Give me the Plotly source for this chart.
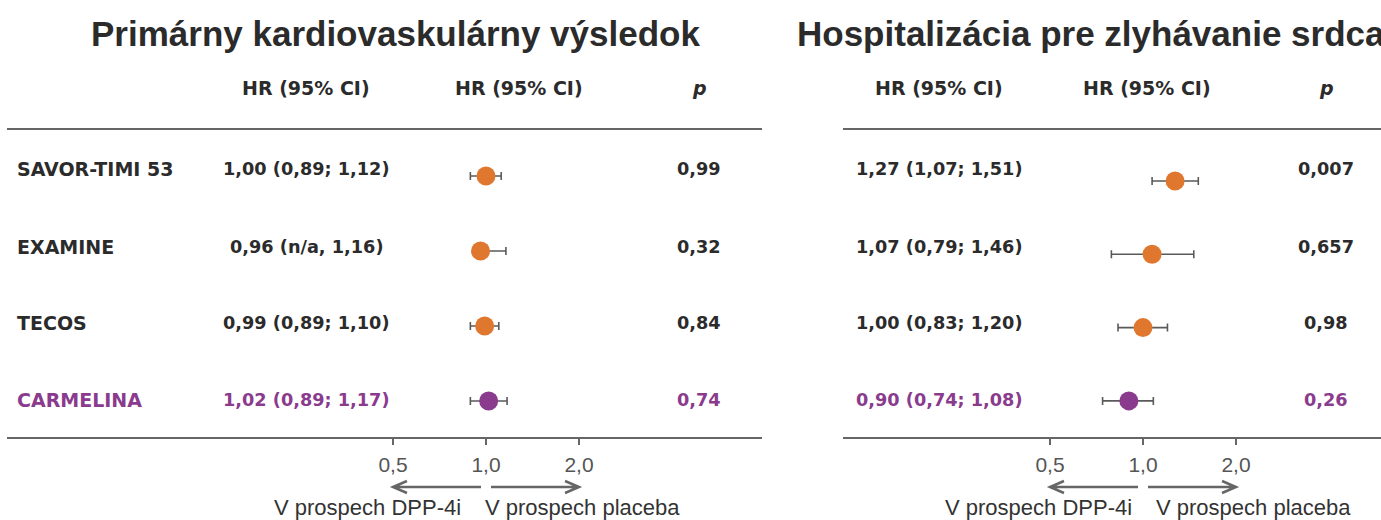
import math
import plotly.graph_objects as go

# ---------------- data ----------------
studies = ["SAVOR-TIMI 53", "EXAMINE", "TECOS", "CARMELINA"]
rows = [0, 1, 2, 3]

mace_hr = [1.00, 0.96, 0.99, 1.02]
mace_lo = [0.89, None, 0.89, 0.89]
mace_hi = [1.12, 1.16, 1.10, 1.17]
mace_txt = ["1,00 (0,89; 1,12)", "0,96 (n/a, 1,16)", "0,99 (0,89; 1,10)", "1,02 (0,89; 1,17)"]
mace_p = ["0,99", "0,32", "0,84", "0,74"]

hhf_hr = [1.27, 1.07, 1.00, 0.90]
hhf_lo = [1.07, 0.79, 0.83, 0.74]
hhf_hi = [1.51, 1.46, 1.20, 1.08]
hhf_txt = ["1,27 (1,07; 1,51)", "1,07 (0,79; 1,46)", "1,00 (0,83; 1,20)", "0,90 (0,74; 1,08)"]
hhf_p = ["0,007", "0,657", "0,98", "0,26"]

titles = ["Primárny kardiovaskulárny výsledok", "Hospitalizácia pre zlyhávanie srdca"]
tick_vals = [0.5, 1.0, 2.0]
tick_text = ["0,5", "1,0", "2,0"]
favour_left = "V prospech DPP-4i"
favour_right = "V prospech placeba"

# ---------------- style ----------------
W, H = 1381, 520
ORANGE = "#E0772F"
PURPLE = "#8A3B8E"
TXT = "#2b2b2b"
GRAY = "#666666"
ARIAL = "Liberation Sans, Arial, sans-serif"
WIDE = "DejaVu Sans, Verdana, sans-serif"
PX_PER_DEC = 309.0

colors = [ORANGE, ORANGE, ORANGE, PURPLE]
txt_colors = [TXT, TXT, TXT, PURPLE]


def px(v):
    return min(1.0, max(0.0, v / W))


def pxu(v):
    return v / W


def py(v):
    return 1 - v / H


fig = go.Figure()

panels = [
    dict(xa="x", ya="y", left=7, right=762, one=486, hr=mace_hr, lo=mace_lo, hi=mace_hi,
         txt=mace_txt, p=mace_p, hr_c=306, hdr2=519, p_c=699, row0=176, step=75, title_x=395,
         title_anchor="center", name_x=15, fav_l=463, fav_r=483),
    dict(xa="x2", ya="y2", left=843, right=1381, one=1143, hr=hhf_hr, lo=hhf_lo, hi=hhf_hi,
         txt=hhf_txt, p=hhf_p, hr_c=939, hdr2=1147, p_c=1326, row0=181, step=73.3, title_x=795,
         title_anchor="left", name_x=None, fav_l=1134, fav_r=1154),
]

top_px, bot_px = 129.5, 437
row_text_px = [169, 247, 323, 400]

for i, pn in enumerate(panels):
    lo_rng = (pn["left"] - pn["one"]) / PX_PER_DEC
    hi_rng = (pn["right"] - pn["one"]) / PX_PER_DEC
    y_top = (top_px - pn["row0"]) / pn["step"]
    y_bot = (bot_px - pn["row0"]) / pn["step"]
    sfx = "" if i == 0 else "2"

    fig.update_layout(**{
        "xaxis" + sfx: dict(
            domain=[px(pn["left"]), px(pn["right"])],
            type="log", range=[lo_rng, hi_rng], anchor="y" + sfx,
            tickvals=tick_vals, ticktext=tick_text, ticks="outside", ticklen=6,
            tickwidth=1.5, tickcolor=GRAY, showline=True, linecolor=GRAY, linewidth=2,
            mirror=True, showgrid=False, zeroline=False, ticklabelstandoff=2,
            tickfont=dict(family=ARIAL, size=21, color="#555555"),
        ),
        "yaxis" + sfx: dict(
            domain=[py(bot_px), py(top_px)], range=[y_bot, y_top], anchor="x" + sfx,
            visible=False, showgrid=False, zeroline=False,
        ),
    })

    plus = [h - v for h, v in zip(pn["hi"], pn["hr"])]
    minus = [(v - l) if l is not None else 0 for v, l in zip(pn["hr"], pn["lo"])]

    # vertical reference line at HR = 1
    fig.add_shape(type="line", xref=pn["xa"], yref="paper", x0=0, x1=0,
                  y0=py(bot_px), y1=py(top_px), line=dict(color="#555555", width=2.2), layer="below")

    fig.add_trace(go.Scatter(
        x=pn["hr"], y=rows, xaxis=pn["xa"], yaxis=pn["ya"], mode="markers",
        marker=dict(size=19, color=colors, line=dict(width=0)),
        error_x=dict(type="data", symmetric=False, array=plus, arrayminus=minus,
                     color="#5a5a5a", thickness=1.6, width=4),
        showlegend=False, hoverinfo="skip",
    ))

    # title
    fig.add_annotation(text=f"<b>{titles[i]}</b>", xref="paper", yref="paper",
                       x=pxu(pn["title_x"]), y=py(33), xanchor=pn["title_anchor"], yanchor="middle",
                       showarrow=False, font=dict(family=ARIAL, size=35, color=TXT))
    # headers
    for hx, ht in [(pn["hr_c"], "<b>HR (95% CI)</b>"), (pn["hdr2"], "<b>HR (95% CI)</b>"),
                   (pn["p_c"], "<b><i>p</i></b>")]:
        fig.add_annotation(text=ht, xref="paper", yref="paper", x=pxu(hx), y=py(88),
                           xanchor="center", yanchor="middle", showarrow=False,
                           font=dict(family=WIDE, size=19, color=TXT))

    # row texts
    for r in rows:
        ty = py(row_text_px[r])
        if pn["name_x"] is not None:
            fig.add_annotation(text=f"<b>{studies[r]}</b>", xref="paper", yref="paper",
                               x=pxu(pn["name_x"]), y=ty, xanchor="left", yanchor="middle",
                               showarrow=False, font=dict(family=WIDE, size=19, color=txt_colors[r]))
        fig.add_annotation(text=f"<b>{pn['txt'][r]}</b>", xref="paper", yref="paper",
                           x=pxu(pn["hr_c"]), y=ty, xanchor="center", yanchor="middle",
                           showarrow=False, font=dict(family=WIDE, size=17.7, color=txt_colors[r]))
        fig.add_annotation(text=f"<b>{pn['p'][r]}</b>", xref="paper", yref="paper",
                           x=pxu(pn["p_c"]), y=ty, xanchor="center", yanchor="middle",
                           showarrow=False, font=dict(family=WIDE, size=17.7, color=txt_colors[r]))

    # favour arrows
    def lx(v, one=pn["one"]):
        return pxu(one + PX_PER_DEC * math.log10(v))

    ay = py(487)
    dy = 6 / H
    dx = 14 / W
    gap = 5 / W
    l_tip, r_tip = lx(0.5), lx(2.0)
    c = lx(1.0)
    path_l = (f"M {c - gap},{ay} L {l_tip},{ay} M {l_tip + dx},{ay + dy} L {l_tip},{ay} "
              f"L {l_tip + dx},{ay - dy}")
    path_r = (f"M {c + gap},{ay} L {r_tip},{ay} M {r_tip - dx},{ay + dy} L {r_tip},{ay} "
              f"L {r_tip - dx},{ay - dy}")
    for pth in (path_l, path_r):
        fig.add_shape(type="path", xref="paper", yref="paper", path=pth,
                      line=dict(color=GRAY, width=2.5))
    fig.add_annotation(text=favour_left, xref="paper", yref="paper", x=pxu(pn["fav_l"]), y=py(507),
                       xanchor="right", yanchor="middle", showarrow=False,
                       font=dict(family=ARIAL, size=22, color="#333333"))
    fig.add_annotation(text=favour_right, xref="paper", yref="paper", x=pxu(pn["fav_r"]), y=py(507),
                       xanchor="left", yanchor="middle", showarrow=False,
                       font=dict(family=ARIAL, size=22, color="#333333"))

fig.update_layout(width=W, height=H, margin=dict(l=0, r=0, t=0, b=0),
                  paper_bgcolor="white", plot_bgcolor="white", showlegend=False)

fig.write_html("out.html", config={"displayModeBar": False},
               post_script="document.body.style.margin='0';")
